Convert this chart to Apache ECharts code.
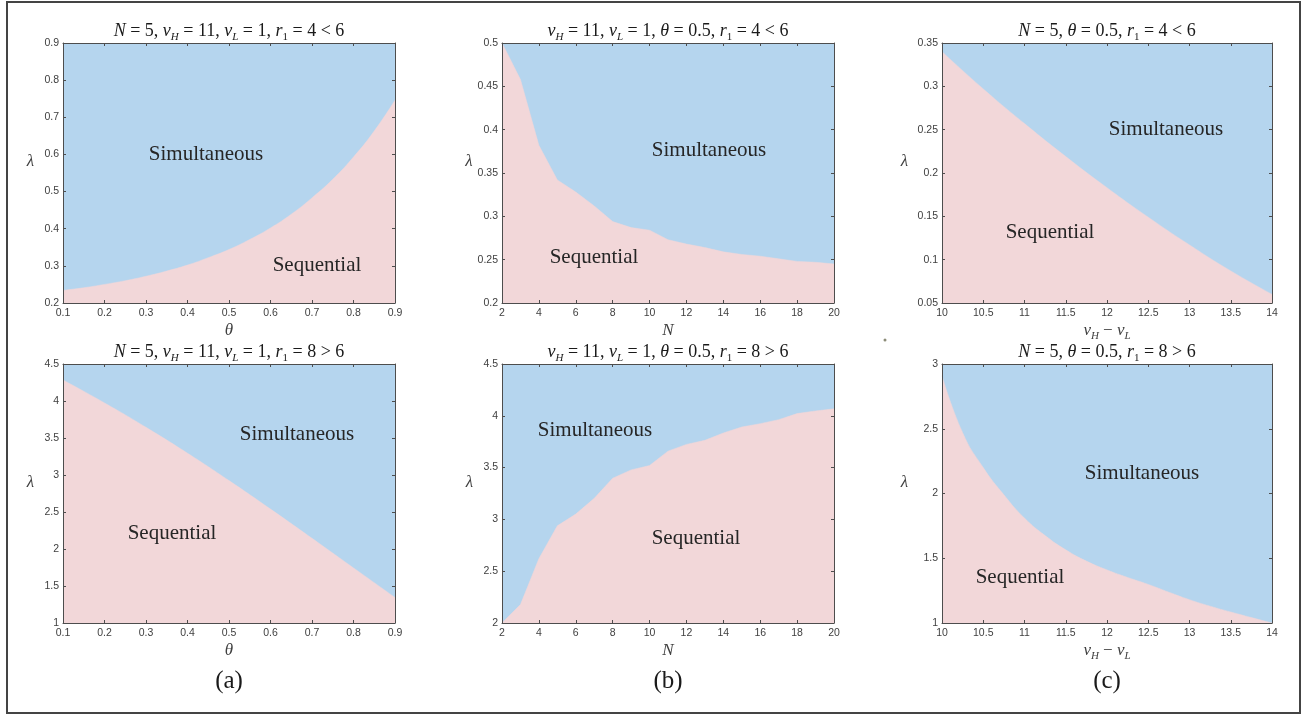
<!DOCTYPE html>
<html>
<head>
<meta charset="utf-8">
<script src="https://cdn.jsdelivr.net/npm/echarts@6/dist/echarts.min.js"></script>
<style>
  html, body { margin: 0; padding: 0; background: #fff; }
  #chart { width: 1309px; height: 715px; }
</style>
</head>
<body>
<div id="chart"></div>
<script>
// (a) lambda threshold vs theta
const thetaTop = [0.1, 0.15, 0.2, 0.25, 0.3, 0.35, 0.4, 0.45, 0.5, 0.55, 0.6, 0.65, 0.7, 0.75, 0.8, 0.85, 0.9];
const lamThetaTop = [0.234, 0.241, 0.25, 0.26, 0.272, 0.286, 0.302, 0.322, 0.344, 0.371, 0.402, 0.439, 0.483, 0.533, 0.593, 0.663, 0.746];
const thetaBot = [0.1, 0.2, 0.3, 0.4, 0.5, 0.6, 0.7, 0.8, 0.9];
const lamThetaBot = [4.284, 3.974, 3.644, 3.294, 2.924, 2.539, 2.144, 1.744, 1.345];

// (b) lambda threshold vs N
const nVals = [2, 3, 4, 5, 6, 7, 8, 9, 10, 11, 12, 13, 14, 15, 16, 17, 18, 19, 20];
const lamNTop = [0.5, 0.458, 0.382, 0.342, 0.328, 0.312, 0.294, 0.287, 0.284, 0.273, 0.268, 0.264, 0.259, 0.256, 0.254, 0.251, 0.248, 0.247, 0.245];
const lamNBot = [2.0, 2.178, 2.621, 2.938, 3.051, 3.203, 3.397, 3.478, 3.52, 3.659, 3.724, 3.763, 3.834, 3.892, 3.924, 3.963, 4.021, 4.047, 4.067];

// (c) lambda threshold vs vH - vL
const dvTop = [10, 10.5, 11, 11.5, 12, 12.5, 13, 13.5, 14];
const lamDvTop = [0.34, 0.297, 0.257, 0.219, 0.183, 0.149, 0.117, 0.087, 0.06];
const dvBot = [10, 10.25, 10.5, 10.75, 11, 11.25, 11.5, 11.75, 12, 12.25, 12.5, 12.75, 13, 13.25, 13.5, 13.75, 14];
const lamDvBot = [2.91, 2.47, 2.2, 1.99, 1.81, 1.675, 1.565, 1.478, 1.41, 1.352, 1.298, 1.238, 1.18, 1.13, 1.085, 1.042, 1.0];

// axis ranges [min, max, interval]
const xRanges = [[0.1, 0.9, 0.1], [2, 20, 2], [10, 14, 0.5], [0.1, 0.9, 0.1], [2, 20, 2], [10, 14, 0.5]];
const yRanges = [[0.2, 0.9, 0.1], [0.2, 0.5, 0.05], [0.05, 0.35, 0.05], [1, 4.5, 0.5], [2, 4.5, 0.5], [1, 3, 0.5]];

const panelTitles = [
  '{i|N}{r| = 5, }{i|v}{s|H}{r| = 11, }{i|v}{s|L}{r| = 1, }{i|r}{n|1}{r| = 4 < 6}',
  '{i|v}{s|H}{r| = 11, }{i|v}{s|L}{r| = 1, }{i|θ}{r| = 0.5, }{i|r}{n|1}{r| = 4 < 6}',
  '{i|N}{r| = 5, }{i|θ}{r| = 0.5, }{i|r}{n|1}{r| = 4 < 6}',
  '{i|N}{r| = 5, }{i|v}{s|H}{r| = 11, }{i|v}{s|L}{r| = 1, }{i|r}{n|1}{r| = 8 > 6}',
  '{i|v}{s|H}{r| = 11, }{i|v}{s|L}{r| = 1, }{i|θ}{r| = 0.5, }{i|r}{n|1}{r| = 8 > 6}',
  '{i|N}{r| = 5, }{i|θ}{r| = 0.5, }{i|r}{n|1}{r| = 8 > 6}'
];
const xNames = ['{i|θ}', '{i|N}', '{i|v}{s|H}{r| − }{i|v}{s|L}', '{i|θ}', '{i|N}', '{i|v}{s|H}{r| − }{i|v}{s|L}'];
const subLabels = ['(a)', '(b)', '(c)'];

const blue = '#b5d5ee';
const pink = '#f2d7d9';
const axisColor = '#4d4d4d';
const serif = 'Liberation Serif';

const grids = [
  { left: 63, top: 43, width: 332, height: 260 },
  { left: 502, top: 43, width: 332, height: 260 },
  { left: 942, top: 43, width: 330, height: 260 },
  { left: 63, top: 364, width: 332, height: 259 },
  { left: 502, top: 364, width: 332, height: 259 },
  { left: 942, top: 364, width: 330, height: 259 }
];

function mathRich(size, subSize) {
  return {
    i: { fontFamily: serif, fontStyle: 'italic', fontSize: size, lineHeight: size + 5 },
    r: { fontFamily: serif, fontSize: size, lineHeight: size + 5 },
    s: { fontFamily: serif, fontStyle: 'italic', fontSize: subSize, lineHeight: subSize, verticalAlign: 'bottom' },
    n: { fontFamily: serif, fontSize: subSize, lineHeight: subSize, verticalAlign: 'bottom' }
  };
}

const xAxes = [];
const yAxes = [];
grids.forEach((g, i) => {
  const [xmin, xmax, xint] = xRanges[i];
  const [ymin, ymax, yint] = yRanges[i];
  const common = {
    type: 'value',
    gridIndex: i,
    z: 5,
    axisLine: { show: true, onZero: false, lineStyle: { color: axisColor, width: 1 } },
    axisTick: { show: true, inside: true, length: 3, lineStyle: { color: axisColor } },
    splitLine: { show: false }
  };
  xAxes.push({
    ...common, position: 'bottom', min: xmin, max: xmax, interval: xint,
    axisLabel: { color: '#404040', fontFamily: 'Liberation Sans', fontSize: 10.5, margin: 5 },
    name: xNames[i], nameLocation: 'middle', nameGap: 17,
    nameTextStyle: { color: '#404040', rich: mathRich(17, 11) }
  });
  xAxes.push({
    ...common, position: 'top', min: xmin, max: xmax, interval: xint,
    axisLabel: { show: false }
  });
  yAxes.push({
    ...common, position: 'left', min: ymin, max: ymax, interval: yint,
    axisLabel: { color: '#404040', fontFamily: 'Liberation Sans', fontSize: 10.5, margin: 4 },
    name: '{i|λ}', nameLocation: 'middle', nameRotate: 0, nameGap: i % 3 === 2 ? 34 : 29,
    nameTextStyle: { color: '#404040', padding: [0, 0, 22, 0], rich: mathRich(17, 11) }
  });
  yAxes.push({
    ...common, position: 'right', min: ymin, max: ymax, interval: yint,
    axisLabel: { show: false }
  });
});

const curves = [
  [thetaTop, lamThetaTop, true],
  [nVals, lamNTop, false],
  [dvTop, lamDvTop, true],
  [thetaBot, lamThetaBot, true],
  [nVals, lamNBot, false],
  [dvBot, lamDvBot, true]
];

const series = curves.map(([xs, ys, smooth], i) => ({
  type: 'line',
  xAxisIndex: 2 * i,
  yAxisIndex: 2 * i,
  data: xs.map((x, k) => [x, ys[k]]),
  symbol: 'none',
  smooth: smooth,
  silent: true,
  lineStyle: { width: 0.5, color: pink },
  areaStyle: { color: pink, opacity: 1, origin: 'start' }
}));

// region labels: [text, x, y]
const regionLabels = [
  ['Simultaneous', 206, 154], ['Sequential', 317, 265],
  ['Simultaneous', 709, 150], ['Sequential', 594, 257],
  ['Simultaneous', 1166, 129], ['Sequential', 1050, 232],
  ['Simultaneous', 297, 434], ['Sequential', 172, 533],
  ['Simultaneous', 595, 430], ['Sequential', 696, 538],
  ['Simultaneous', 1142, 473], ['Sequential', 1020, 577]
];

const graphic = [
  {
    type: 'rect', shape: { x: 7, y: 2, width: 1293, height: 711 }, z: 100,
    style: { fill: 'none', stroke: '#444', lineWidth: 2 }, silent: true
  },
  { type: 'circle', shape: { cx: 885, cy: 340, r: 1.5 }, z: 100, style: { fill: '#8c8c78' }, silent: true }
];
grids.forEach((g, i) => {
  graphic.push({
    type: 'text', x: g.left + g.width / 2, y: g.top - 12, z: 100,
    style: { text: panelTitles[i], rich: mathRich(18, 11), fill: '#1a1a1a', align: 'center', verticalAlign: 'middle' }
  });
});
regionLabels.forEach(([t, x, y]) => {
  graphic.push({
    type: 'text', x, y, z: 100,
    style: { text: t, font: '21px "Liberation Serif"', fill: '#262626', align: 'center', verticalAlign: 'middle' }
  });
});
subLabels.forEach((t, c) => {
  const g = grids[c];
  graphic.push({
    type: 'text', x: g.left + g.width / 2, y: 681, z: 100,
    style: { text: t, font: '25px "Liberation Serif"', fill: '#1a1a1a', align: 'center', verticalAlign: 'middle' }
  });
});

const chart = echarts.init(document.getElementById('chart'));
chart.setOption({
  animation: false,
  backgroundColor: '#fff',
  grid: grids.map(g => ({ ...g, show: true, backgroundColor: blue, borderWidth: 0 })),
  xAxis: xAxes,
  yAxis: yAxes,
  series,
  graphic
});
</script>
</body>
</html>
